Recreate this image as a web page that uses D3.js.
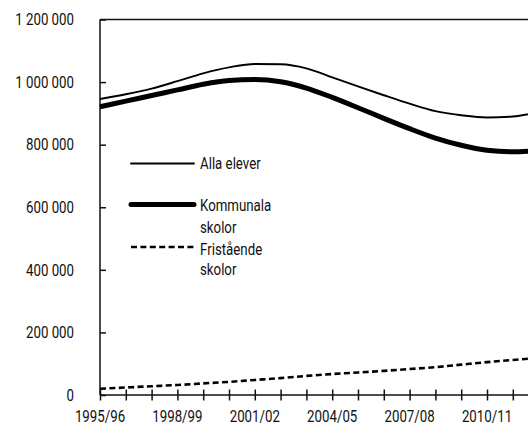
<html>
<head>
<meta charset="utf-8">
<script src="https://d3js.org/d3.v7.min.js"></script>
<style>
body { margin: 0; background: #fff; }
svg { display: block; }
text { font-family: Roboto, "Liberation Sans", sans-serif; font-size: 16px; fill: #111; }
.axis line, .axis path { stroke: #111; stroke-width: 1.5; fill: none; }
</style>
</head>
<body>
<div id="plot"></div>

<script>

// School years, one per tick
var years = ["1995/96", "1996/97", "1997/98", "1998/99", "1999/00", "2000/01", "2001/02",
  "2002/03", "2003/04", "2004/05", "2005/06", "2006/07", "2007/08", "2008/09",
  "2009/10", "2010/11", "2011/12", "2012/13"];

// Number of pupils
var alla = [946000, 961000, 979000, 1003000, 1028000, 1047000, 1058000, 1057000, 1044000,
  1015000, 986000, 958000, 931000, 907000, 894000, 887000, 890000, 904000];
var kommunala = [921000, 939000, 957000, 975000, 993000, 1005000, 1008000, 1001000, 981000,
  951000, 918000, 884000, 851000, 821000, 798000, 782000, 777000, 782000];
var fristaende = [20000, 24000, 28000, 32000, 37000, 42000, 48000, 54000, 61000,
  67000, 72000, 77000, 83000, 89000, 97000, 105000, 112000, 118000];

var yTicks = [0, 200000, 400000, 600000, 800000, 1000000, 1200000];
var xLabels = ["1995/96", "1998/99", "2001/02", "2004/05", "2007/08", "2010/11"];

var series = [
  { name: ["Alla elever"], values: alla, width: 1.9, dash: null },
  { name: ["Kommunala", "skolor"], values: kommunala, width: 5, dash: null },
  { name: ["Fristående", "skolor"], values: fristaende, width: 2.6, dash: "6,3.4" }
];

var width = 528;
var height = 424;
var squeeze = 0.83; // the original uses a condensed face

var svg = d3.select("#plot").append("svg")
.attr("width", width).attr("height", height);

// plot area runs past the right edge of the picture
var xScale = d3.scaleLinear().domain([0, 17]).range([100, 538.6]);
var yScale = d3.scaleLinear().domain([0, 1200000]).range([395, 19.5]);

var locale = d3.formatLocale({ decimal: ",", thousands: "\u00a0", grouping: [3], currency: ["", " kr"] });
var fmt = locale.format(",d");

// condensed text helper
function label(parent, x, y, str, anchor) {
  return parent.append("text")
  .attr("transform", "translate(" + x + "," + y + ") scale(" + squeeze + ",1)")
  .attr("text-anchor", anchor || "start")
  .text(str);
}

// frame: top line
svg.append("line")
.attr("x1", 100).attr("x2", width)
.attr("y1", yScale(1200000)).attr("y2", yScale(1200000))
.attr("stroke", "#111").attr("stroke-width", 1.5);

// y axis, ticks pointing inwards
var yAxis = d3.axisRight(yScale).tickValues(yTicks).tickSize(6).tickFormat("");
svg.append("g").attr("class", "axis")
.attr("transform", "translate(100,0)")
.call(yAxis)
.call(function (g) { g.select(".domain").attr("d", "M0," + yScale(1200000) + "V" + yScale(0)); });

yTicks.forEach(function (d) {
  label(svg, 74, yScale(d) + 5.8, fmt(d), "end");
});

// x axis, ticks crossing the line
var xAxis = d3.axisBottom(xScale).tickValues(d3.range(years.length)).tickSizeInner(5.5).tickSizeOuter(0).tickFormat("");
var xg = svg.append("g").attr("class", "axis")
.attr("transform", "translate(0," + yScale(0) + ")")
.call(xAxis);
xg.select(".domain").attr("d", "M100,0H" + width);
xg.selectAll(".tick line").attr("y1", -5.5);

xLabels.forEach(function (d) {
  label(svg, xScale(years.indexOf(d)), 421.5, d, "middle");
});

// data lines
var line = d3.line()
.x(function (d, i) { return xScale(i); })
.y(function (d) { return yScale(d); })
.curve(d3.curveMonotoneX);

svg.selectAll("path.series")
.data(series).enter().append("path")
.attr("class", "series")
.attr("d", function (d) { return line(d.values); })
.attr("fill", "none")
.attr("stroke", "#000")
.attr("stroke-width", function (d) { return d.width; })
.attr("stroke-dasharray", function (d) { return d.dash; });

// legend
var legendY = [163.5, 204.5, 247];
var legendBase = [[169], [210.5, 232.5], [255.3, 274.5]];

var legend = svg.selectAll("g.legend")
.data(series).enter().append("g").attr("class", "legend");

legend.append("line")
.attr("x1", 131).attr("x2", 194)
.attr("y1", function (d, i) { return legendY[i]; })
.attr("y2", function (d, i) { return legendY[i]; })
.attr("stroke", "#000")
.attr("stroke-width", function (d) { return d.width; })
.attr("stroke-linecap", function (d) { return d.dash ? "butt" : "round"; })
.attr("stroke-dasharray", function (d) { return d.dash; });

legend.each(function (d, i) {
  var g = d3.select(this);
  d.name.forEach(function (t, j) {
    label(g, 200, legendBase[i][j], t);
  });
});

</script>
</body>
</html>
